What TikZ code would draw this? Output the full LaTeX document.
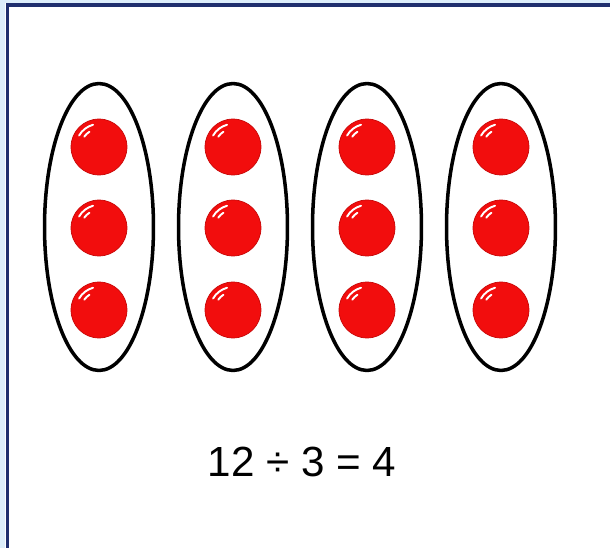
\documentclass[tikz,border=0pt]{standalone}
\usepackage{fontspec}
\setmainfont{Liberation Sans}
\usetikzlibrary{shapes.geometric}
\definecolor{framenavy}{HTML}{1F2F6E}
\definecolor{edgeblue}{HTML}{DDEEFB}
\definecolor{counterred}{HTML}{F20D0D}
\definecolor{counteredge}{HTML}{C80A0A}

\begin{document}
\begin{tikzpicture}[x=0.02cm, y=-0.02cm,
  group/.style={ellipse, draw=black, line width=2pt, inner sep=0pt, minimum width=2.18cm, minimum height=5.74cm},
  counter/.style={circle, fill=counterred, draw=counteredge, line width=0.4pt, inner sep=0pt, minimum size=1.12cm},
  shine/.style={white, line width=1.1pt, line cap=round},
]
  \useasboundingbox (0,0) rectangle (610,548);

  % Frame
  \fill[edgeblue] (0,0) rectangle (5,548);
  \fill[edgeblue] (0,0) rectangle (610,3);
  \draw[framenavy, line width=0.08cm] (7.5,548) -- (7.5,5) -- (610,5);

  % Groups of three
  \foreach \x [count=\i] in {99,233,367,501} {
    \node[group] (g\i) at (\x,227) {};
    \foreach \y [count=\j] in {147,228,310} {
      \node[counter] (c\i\j) at (\x,\y) {};
      \draw[shine] ([shift={(105:0.46cm)}]c\i\j.center) arc[start angle=105, end angle=150, radius=0.46cm];
      \draw[shine] ([shift={(122:0.36cm)}]c\i\j.center) arc[start angle=122, end angle=145, radius=0.36cm];
    }
  }

  % Sum
  \node[font=\fontsize{24}{28}\selectfont] (sum) at (302,462) {12 ÷ 3 = 4};

\end{tikzpicture}
\end{document}
